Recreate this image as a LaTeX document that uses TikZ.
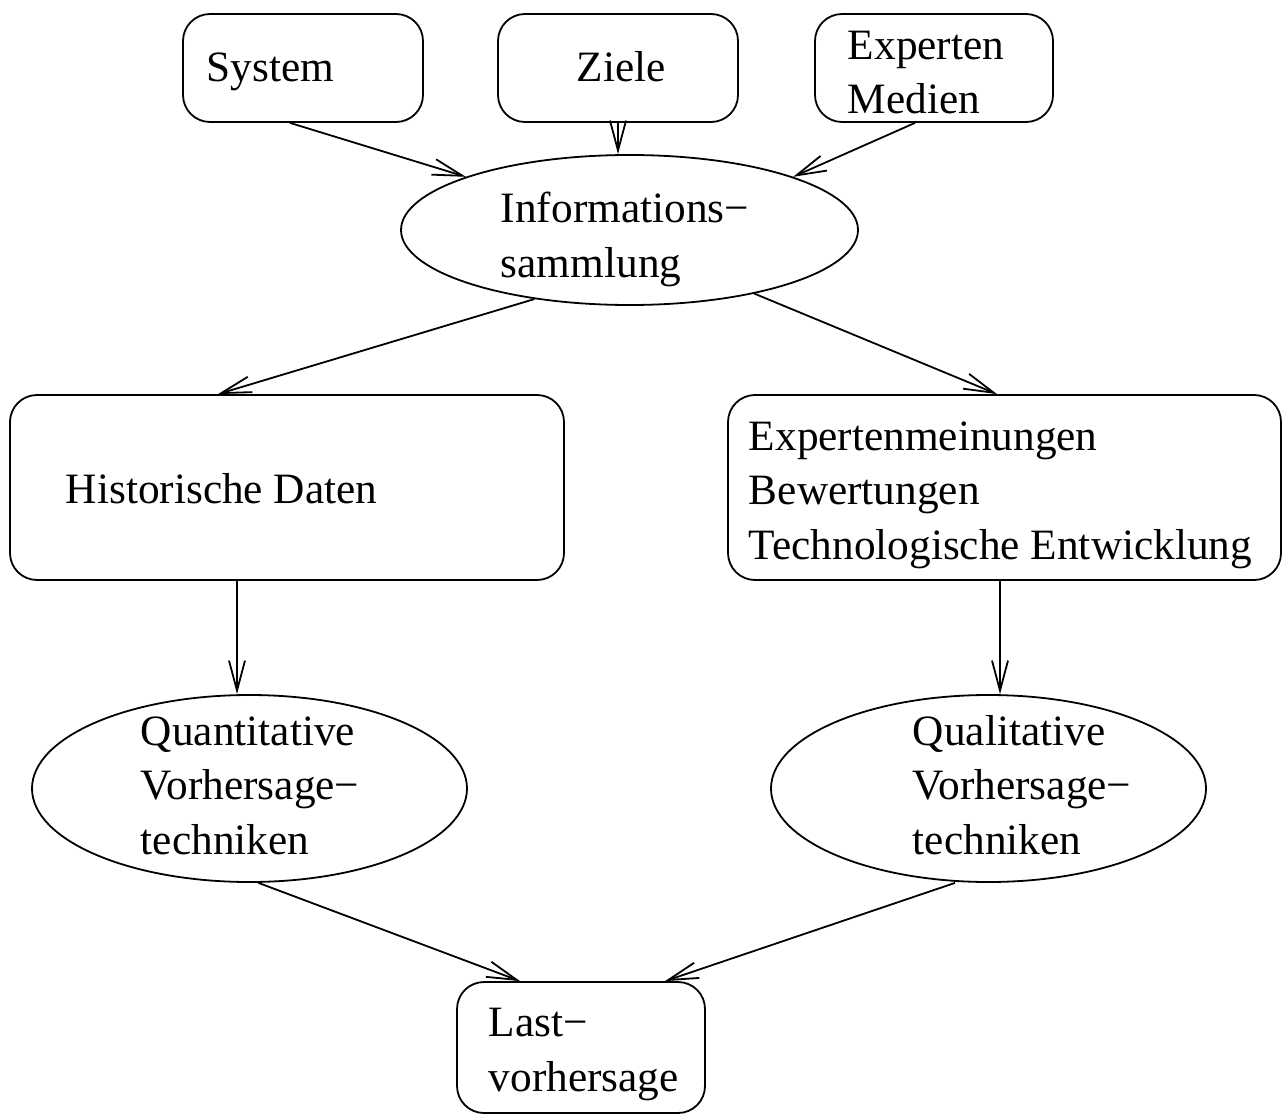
\documentclass[tikz,border=0pt]{standalone}
\usepackage{fontspec}
\setmainfont{Liberation Serif}
\usetikzlibrary{shapes.geometric,arrows.meta}
\begin{document}
\begin{tikzpicture}[x=1pt,y=-1pt,
  line width=1.8pt,
  font=\fontsize{43.3}{54.3}\selectfont,
  rbox/.style={draw,rounded corners=27pt,inner sep=0pt},
  oval/.style={draw,ellipse,inner sep=0pt},
  % multi-line texts are placed by the baseline of their last line
  txt/.style={anchor=base west,inner sep=0pt,align=left},
  flow/.style={-{Straight Barb[length=30pt,width=16pt,line width=1.8pt]}}]
\useasboundingbox (0,0) rectangle (1282,1118);

% source boxes
\node[rbox,minimum width=240pt,minimum height=108pt] (sys)   at (303,68) {};
\node[rbox,minimum width=240pt,minimum height=108pt] (ziele) at (618,68) {};
\node[rbox,minimum width=238pt,minimum height=108pt] (exp)   at (934,68) {};
\node[txt] (tsys)   at (206,82) {System};
\node[txt] (tziele) at (576,82) {Ziele};
\node[txt] (texp)   at (847,114) {Experten\\Medien};

% information gathering
\node[oval,minimum width=457pt,minimum height=150pt] (info) at (629.5,230) {};
\node[txt] (tinfo) at (500,277) {Informations−\\sammlung};

% data sources
\node[rbox,minimum width=554pt,minimum height=185pt] (hist) at (287,487.5) {};
\node[rbox,minimum width=553pt,minimum height=185pt] (expm) at (1004.5,487.5) {};
\node[txt] (thist) at (65,503) {Historische Daten};
\node[txt] (texpm) at (748,559) {Expertenmeinungen\\Bewertungen\\Technologische Entwicklung};

% forecasting techniques
\node[oval,minimum width=435pt,minimum height=187pt] (quant) at (249.5,788.5) {};
\node[oval,minimum width=435pt,minimum height=187pt] (qual)  at (988.5,788.5) {};
\node[txt] (tquant) at (140,854) {Quantitative\\Vorhersage−\\techniken};
\node[txt] (tqual)  at (912,854) {Qualitative\\Vorhersage−\\techniken};

% result
\node[rbox,minimum width=248pt,minimum height=131pt] (last) at (581,1047.5) {};
\node[txt] (tlast) at (488,1091) {Last−\\vorhersage};

% connectors
\draw[flow] ([xshift=-13pt]sys.south) -- (info.162.9);
\draw[flow] (ziele.south) -- (ziele.south |- info.north);
\draw[flow] ([xshift=-19pt]exp.south) -- (info.18.1);
\draw[flow] (info.216.7) -- ([xshift=-69pt]hist.north);
\draw[flow] (info.333.2) -- ([xshift=-7.5pt]expm.north);
\draw[flow] ([xshift=-50pt]hist.south) -- ([xshift=-50pt]hist.south |- quant.north);
\draw[flow] ([xshift=-4.5pt]expm.south) -- ([xshift=-4.5pt]expm.south |- qual.north);
\draw[flow] ([xshift=9pt]quant.south) -- ([xshift=-61pt]last.north);
\draw[flow] ([xshift=-33.5pt]qual.south) -- ([xshift=84pt]last.north);
\end{tikzpicture}
\end{document}
